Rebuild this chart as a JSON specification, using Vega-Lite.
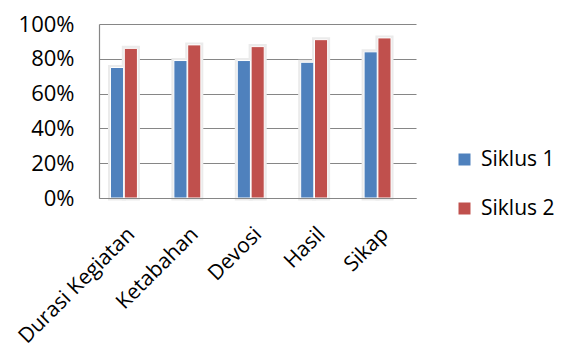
{
  "$schema": "https://vega.github.io/schema/vega-lite/v6.json",
  "width": 317,
  "height": 174,
  "autosize": {"type": "none"},
  "padding": {"left": 99, "top": 24, "right": 146, "bottom": 153},
  "background": "white",
  "config": {
    "view": {"stroke": null},
    "font": "Open Sans"
  },
  "data": {
    "values": [
      {"kategori": "Durasi Kegiatan", "siklus": "Siklus 1", "nilai": 0.75},
      {"kategori": "Durasi Kegiatan", "siklus": "Siklus 2", "nilai": 0.86},
      {"kategori": "Ketabahan", "siklus": "Siklus 1", "nilai": 0.79},
      {"kategori": "Ketabahan", "siklus": "Siklus 2", "nilai": 0.88},
      {"kategori": "Devosi", "siklus": "Siklus 1", "nilai": 0.79},
      {"kategori": "Devosi", "siklus": "Siklus 2", "nilai": 0.87},
      {"kategori": "Hasil", "siklus": "Siklus 1", "nilai": 0.78},
      {"kategori": "Hasil", "siklus": "Siklus 2", "nilai": 0.91},
      {"kategori": "Sikap", "siklus": "Siklus 1", "nilai": 0.84},
      {"kategori": "Sikap", "siklus": "Siklus 2", "nilai": 0.92}
    ]
  },
  "encoding": {
    "x": {
      "field": "kategori",
      "type": "nominal",
      "sort": null,
      "scale": {"paddingInner": 0.575, "paddingOuter": 0.2875, "align": 0.315},
      "axis": {
        "title": null,
        "labelAngle": -45,
        "labelAlign": "right",
        "labelBaseline": "top",
        "labelFont": "Open Sans",
        "labelFontSize": 21,
        "labelColor": "black",
        "labelPadding": 25,
        "ticks": false,
        "domainColor": "#868686",
        "domainWidth": 1.2,
        "zindex": 1
      }
    },
    "xOffset": {"field": "siklus", "type": "nominal", "scale": {"paddingInner": 0.05}},
    "y": {
      "field": "nilai",
      "type": "quantitative",
      "scale": {"domain": [0, 1]},
      "axis": {
        "title": null,
        "values": [0, 0.2, 0.4, 0.6, 0.8, 1],
        "format": ".0%",
        "labelFont": "Open Sans",
        "labelFontSize": 22,
        "labelColor": "black",
        "labelPadding": 25,
        "ticks": false,
        "grid": true,
        "gridColor": "#868686",
        "gridWidth": 1.2,
        "domainColor": "#868686",
        "domainWidth": 1.2
      }
    }
  },
  "layer": [
    {
      "mark": {"type": "bar", "color": "#ebebeb", "stroke": "#ebebeb", "strokeWidth": 5}
    },
    {
      "mark": {"type": "bar", "stroke": "white", "strokeWidth": 1},
      "encoding": {
        "color": {
          "field": "siklus",
          "type": "nominal",
          "scale": {"domain": ["Siklus 1", "Siklus 2"], "range": ["#4F81BD", "#C0504D"]},
          "legend": {
            "orient": "none",
            "legendX": 355,
            "legendY": 125,
            "title": null,
            "symbolType": "square",
            "symbolSize": 144,
            "symbolStrokeWidth": 0,
            "labelFont": "Open Sans",
            "labelFontSize": 21,
            "labelColor": "black",
            "labelOffset": 6,
            "rowPadding": 27,
            "padding": 0
          }
        }
      }
    }
  ]
}
